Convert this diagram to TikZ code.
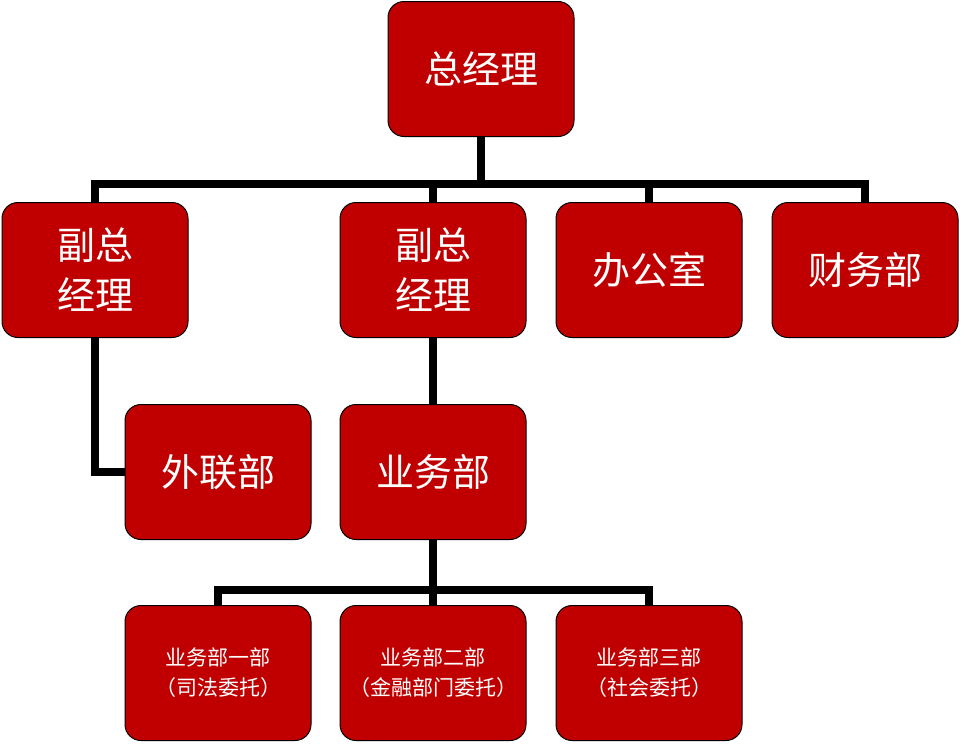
\documentclass[tikz,border=0pt]{standalone}
\usepackage{fontspec}
\newfontfamily\cjk{Noto Sans CJK SC}
\begin{document}
\begin{tikzpicture}[x=1pt,y=-1pt,
  box/.style={draw=black,line width=1pt,fill={rgb,255:red,192;green,0;blue,0},rounded corners=16pt,minimum width=186pt,minimum height=135pt,text=white,font=\cjk\fontsize{38}{50}\selectfont,align=center,inner sep=0pt},
  small/.style={box,font=\cjk\fontsize{21}{30}\selectfont},
  conn/.style={line width=8pt,draw=black}]
\useasboundingbox (0,0) rectangle (968,744);
\node[box] (ceo) at (481,69) {总经理};
\node[box] (v1) at (95,270) {副总\\经理};
\node[box] (v2) at (433,270) {副总\\经理};
\node[box] (off) at (649,270) {办公室};
\node[box] (fin) at (865,270) {财务部};
\node[box] (ext) at (218,472) {外联部};
\node[box] (biz) at (433,472) {业务部};
\node[small] (b1) at (218,673) {业务部一部\\（司法委托）};
\node[small] (b2) at (433,673) {业务部二部\\（金融部门委托）};
\node[small] (b3) at (649,673) {业务部三部\\（社会委托）};
\begin{scope}[on background layer/.try]
\end{scope}
\coordinate (h1) at (481,184);
\coordinate (h2) at (433,590);
\draw[conn] (ceo.south) -- (h1);
\draw[conn] (v1.north) |- (h1) -| (fin.north);
\draw[conn] (v2.north) -- (v2.north |- h1);
\draw[conn] (off.north) -- (off.north |- h1);
\draw[conn] (v1.south) |- (ext.west);
\draw[conn] (v2.south) -- (biz.north);
\draw[conn] (biz.south) -- (h2);
\draw[conn] (b1.north) |- (h2) -| (b3.north);
\draw[conn] (b2.north) -- (h2);
\end{tikzpicture}
\end{document}
